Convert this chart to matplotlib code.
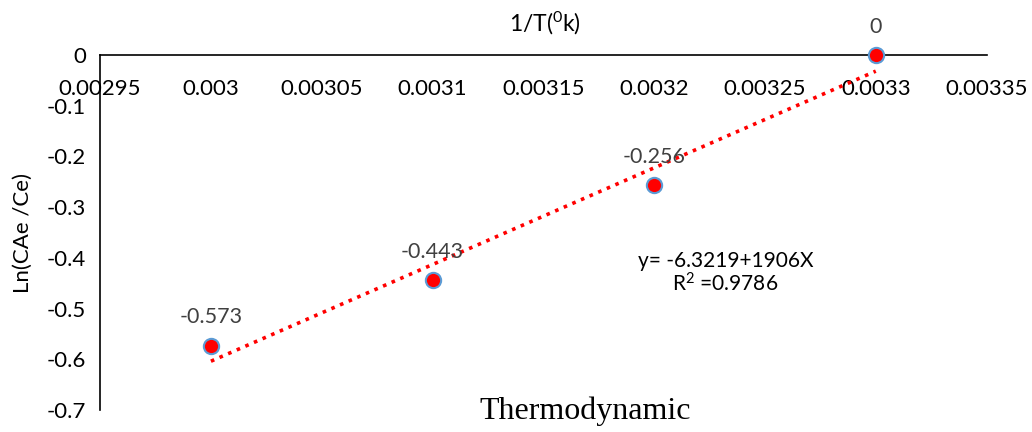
import matplotlib
matplotlib.use("Agg")
import matplotlib.pyplot as plt
import numpy as np

# data
inv_temp = [0.003, 0.0031, 0.0032, 0.0033]
ln_ratio = [-0.573, -0.443, -0.256, 0.0]
point_labels = ["-0.573", "-0.443", "-0.256", "0"]
x_ticks = [0.00295, 0.003, 0.00305, 0.0031, 0.00315, 0.0032, 0.00325, 0.0033, 0.00335]
x_tick_labels = ["0.00295", "0.003", "0.00305", "0.0031", "0.00315", "0.0032", "0.00325", "0.0033", "0.00335"]
y_ticks = [0, -0.1, -0.2, -0.3, -0.4, -0.5, -0.6, -0.7]
y_tick_labels = ["0", "-0.1", "-0.2", "-0.3", "-0.4", "-0.5", "-0.6", "-0.7"]

plt.rcParams["font.family"] = ["Lato", "DejaVu Sans"]

fig = plt.figure(figsize=(10.32, 4.32), dpi=100)
ax = fig.add_axes([0.097, 0.051, 0.859, 0.822])

# linear trendline through the points
slope, intercept = np.polyfit(inv_temp, ln_ratio, 1)
xs = np.array([inv_temp[0], inv_temp[-1]])
ax.plot(xs, intercept + slope * xs, color="red", linestyle=(0, (1, 1.6)),
        linewidth=2.6, zorder=2)

ax.plot(inv_temp, ln_ratio, linestyle="none", marker="o", markersize=11,
        markerfacecolor="red", markeredgecolor="#5B9BD5", markeredgewidth=1.5,
        zorder=3, clip_on=False)

for x, y, lab in zip(inv_temp, ln_ratio, point_labels):
    ax.annotate(lab, (x, y), xytext=(0, 13), textcoords="offset points",
                ha="center", va="bottom", fontsize=15.5, color="#404040",
                annotation_clip=False)

ax.set_xlim(0.00295, 0.00335)
ax.set_ylim(-0.7, 0)
ax.xaxis.tick_top()
ax.set_xticks(x_ticks)
ax.set_xticklabels(x_tick_labels)
ax.set_yticks(y_ticks)
ax.set_yticklabels(y_tick_labels)
ax.tick_params(axis="both", length=0, labelsize=16, colors="black")
ax.tick_params(axis="x", pad=-32)
ax.tick_params(axis="y", pad=10)

for side in ["bottom", "right"]:
    ax.spines[side].set_visible(False)
ax.spines["top"].set_linewidth(1.2)
ax.spines["left"].set_linewidth(1.2)

fig.text(0.528, 0.945, "1/T($\\mathregular{^0}$k)", ha="center", va="center", fontsize=16.5)
fig.text(0.022, 0.46, "Ln(CAe /Ce)", rotation=90, ha="center", va="center", fontsize=16)
fig.text(0.703, 0.395, "y= -6.3219+1906X", ha="center", va="center", fontsize=15)
fig.text(0.703, 0.343, "R$\\mathregular{^2}$ =0.9786", ha="center", va="center", fontsize=15)
fig.text(0.567, 0.048, "Thermodynamic", ha="center", va="center", fontsize=23,
         family=["Liberation Serif", "DejaVu Serif"])

fig.savefig("out.png", dpi=100)
